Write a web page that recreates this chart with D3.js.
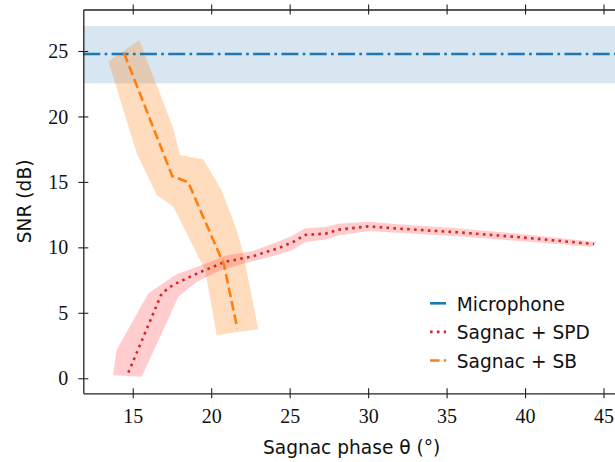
<!DOCTYPE html>
<html>
<head>
<meta charset="utf-8">
<script src="https://cdn.jsdelivr.net/npm/d3@7"></script>
<style>
  body { margin: 0; background: #fff; }
  .tick text { font-family: "Liberation Serif", serif; font-size: 20px; fill: #111; }
  .lab { font-family: "DejaVu Sans", sans-serif; font-size: 18.6px; fill: #111; }
</style>
</head>
<body>
<div id="chart"></div>
<script>
// tick values
var xTicks = [15, 20, 25, 30, 35, 40, 45];
var yTicks = [0, 5, 10, 15, 20, 25];

// Microphone: constant level and its spread
var micLevel = 24.77;
var micBand = [22.53, 26.9];

// Sagnac + SPD (dotted red), centre line and band outline
var spdLine = [[14.72, 0.43], [16.85, 6.49], [17.6, 7.15], [19.2, 8.06], [20.9, 8.9],
  [22.6, 9.3], [24.3, 9.95], [25.2, 10.4], [26.0, 10.95], [27.3, 11.05], [28.1, 11.35],
  [30.0, 11.6], [32.1, 11.42], [35.7, 11.15], [39.4, 10.8], [44.4, 10.25]];
var spdUpper = [[13.75, 0.23], [13.97, 2.16], [16.0, 6.5], [17.8, 7.95], [19.3, 8.6],
  [20.9, 9.35], [22.6, 9.7], [24.3, 10.45], [25.2, 10.9], [26.0, 11.45], [27.3, 11.55],
  [28.1, 11.8], [30.0, 11.95], [32.1, 11.75], [35.7, 11.45], [39.4, 11.05], [44.55, 10.4]];
var spdLower = [[15.57, 0.12], [16.3, 2.03], [17.92, 6.24], [19.1, 7.38], [20.5, 8.2],
  [22.2, 8.8], [24.3, 9.45], [25.2, 9.8], [26.0, 10.4], [27.3, 10.6], [28.1, 10.9],
  [30.0, 11.25], [32.1, 11.1], [35.7, 10.85], [39.4, 10.5], [44.25, 10.05]];

// Sagnac + SB (dashed orange)
var sbLine = [[14.45, 24.83], [17.52, 15.44], [18.54, 14.96], [20.82, 8.65], [21.66, 3.82]];
var sbUpper = [[15.42, 25.82], [17.59, 19.08], [18.01, 17.05], [19.5, 16.72], [20.67, 14.35],
  [21.62, 11.32], [22.04, 9.54], [23.0, 3.74]];
var sbLower = [[13.45, 24.22], [15.25, 17.18], [16.53, 13.99], [17.59, 13.1], [19.61, 8.27], [20.35, 3.31]];

var legendNames = ["Microphone", "Sagnac + SPD", "Sagnac + SB"];

var W = 615, H = 462;
var mLeft = 83.3, mTop = 9.5, mRight = 620, mBottom = 393.3;

var svg = d3.select("#chart").append("svg")
  .attr("width", W)
  .attr("height", H);

var x = d3.scaleLinear().domain([11.85, 46.05]).range([mLeft, mRight]);
var y = d3.scaleLinear().domain([-1.15, 28.17]).range([mBottom, mTop]);

svg.append("clipPath").attr("id", "clip")
  .append("rect")
  .attr("x", mLeft).attr("y", mTop)
  .attr("width", mRight - mLeft).attr("height", mBottom - mTop);

var plot = svg.append("g").attr("clip-path", "url(#clip)");

var line = d3.line().x(function(d) { return x(d[0]); }).y(function(d) { return y(d[1]); });

function band(upper, lower) {
  return line(upper.concat(lower.slice().reverse())) + "Z";
}

// bands
plot.append("rect")
  .attr("x", mLeft).attr("width", mRight - mLeft)
  .attr("y", y(micBand[1])).attr("height", y(micBand[0]) - y(micBand[1]))
  .attr("fill", "#1f77b4").attr("fill-opacity", 0.18);

plot.append("path")
  .attr("d", band(sbUpper, sbLower))
  .attr("fill", "#ff7f0e").attr("fill-opacity", 0.27);

plot.append("path")
  .attr("d", band(spdUpper, spdLower))
  .attr("fill", "#ff1a1a").attr("fill-opacity", 0.22);

// lines
plot.append("line")
  .attr("x1", mLeft).attr("x2", mRight)
  .attr("y1", y(micLevel)).attr("y2", y(micLevel))
  .attr("stroke", "#1f77b4").attr("stroke-width", 2.6)
  .attr("stroke-dasharray", "17,4.3,2.7,4.3");

plot.append("path")
  .datum(spdLine)
  .attr("d", line)
  .attr("fill", "none")
  .attr("stroke", "#d62728").attr("stroke-width", 2.6)
  .attr("stroke-dasharray", "2.6,4.3");

plot.append("path")
  .datum(sbLine)
  .attr("d", line)
  .attr("fill", "none")
  .attr("stroke", "#ff7f0e").attr("stroke-width", 2.6)
  .attr("stroke-dasharray", "9.6,4.2");

// axes
var gx = svg.append("g")
  .attr("transform", "translate(0," + mBottom + ")")
  .call(d3.axisBottom(x).tickValues(xTicks).tickFormat(d3.format("d")).tickSize(5).tickSizeOuter(0));
gx.selectAll(".tick line").attr("y1", -5).attr("y2", 5);
gx.selectAll(".tick text").attr("y", 30).attr("dy", null);

var gt = svg.append("g")
  .attr("transform", "translate(0," + mTop + ")")
  .call(d3.axisTop(x).tickValues(xTicks).tickFormat("").tickSize(5).tickSizeOuter(0));
gt.selectAll(".tick line").attr("y1", -5).attr("y2", 5);

var gy = svg.append("g")
  .attr("transform", "translate(" + mLeft + ",0)")
  .call(d3.axisLeft(y).tickValues(yTicks).tickFormat(d3.format("d")).tickSize(5).tickSizeOuter(0));
gy.selectAll(".tick line").attr("x1", -5).attr("x2", 5);
gy.selectAll(".tick text").attr("x", -15).attr("dy", "0.33em");

svg.selectAll(".domain").attr("stroke", "#222").attr("stroke-width", 1.3);
svg.selectAll(".tick line").attr("stroke", "#222").attr("stroke-width", 1.1);

// axis labels
svg.append("text")
  .attr("class", "lab")
  .attr("x", (mLeft + mRight) / 2).attr("y", 454)
  .attr("text-anchor", "middle")
  .text("Sagnac phase \u03b8 (\u00b0)");

svg.append("text")
  .attr("class", "lab")
  .attr("transform", "translate(31," + ((mTop + mBottom) / 2) + ") rotate(-90)")
  .attr("text-anchor", "middle")
  .text("SNR (dB)");

// legend
var legColors = ["#1f77b4", "#d62728", "#ff7f0e"];
var legDash = [null, "2.6,4.3", "9.6,4.2"];
var leg = svg.append("g").attr("transform", "translate(430,303.3)");
legendNames.forEach(function(name, i) {
  var row = leg.append("g").attr("transform", "translate(0," + (i * 28.6) + ")");
  row.append("line")
    .attr("x1", 0).attr("x2", 16).attr("y1", 0).attr("y2", 0)
    .attr("stroke", legColors[i]).attr("stroke-width", 2.6)
    .attr("stroke-dasharray", legDash[i]);
  row.append("text")
    .attr("class", "lab")
    .attr("x", 26.7).attr("y", 7.4)
    .text(name);
});
</script>
</body>
</html>
